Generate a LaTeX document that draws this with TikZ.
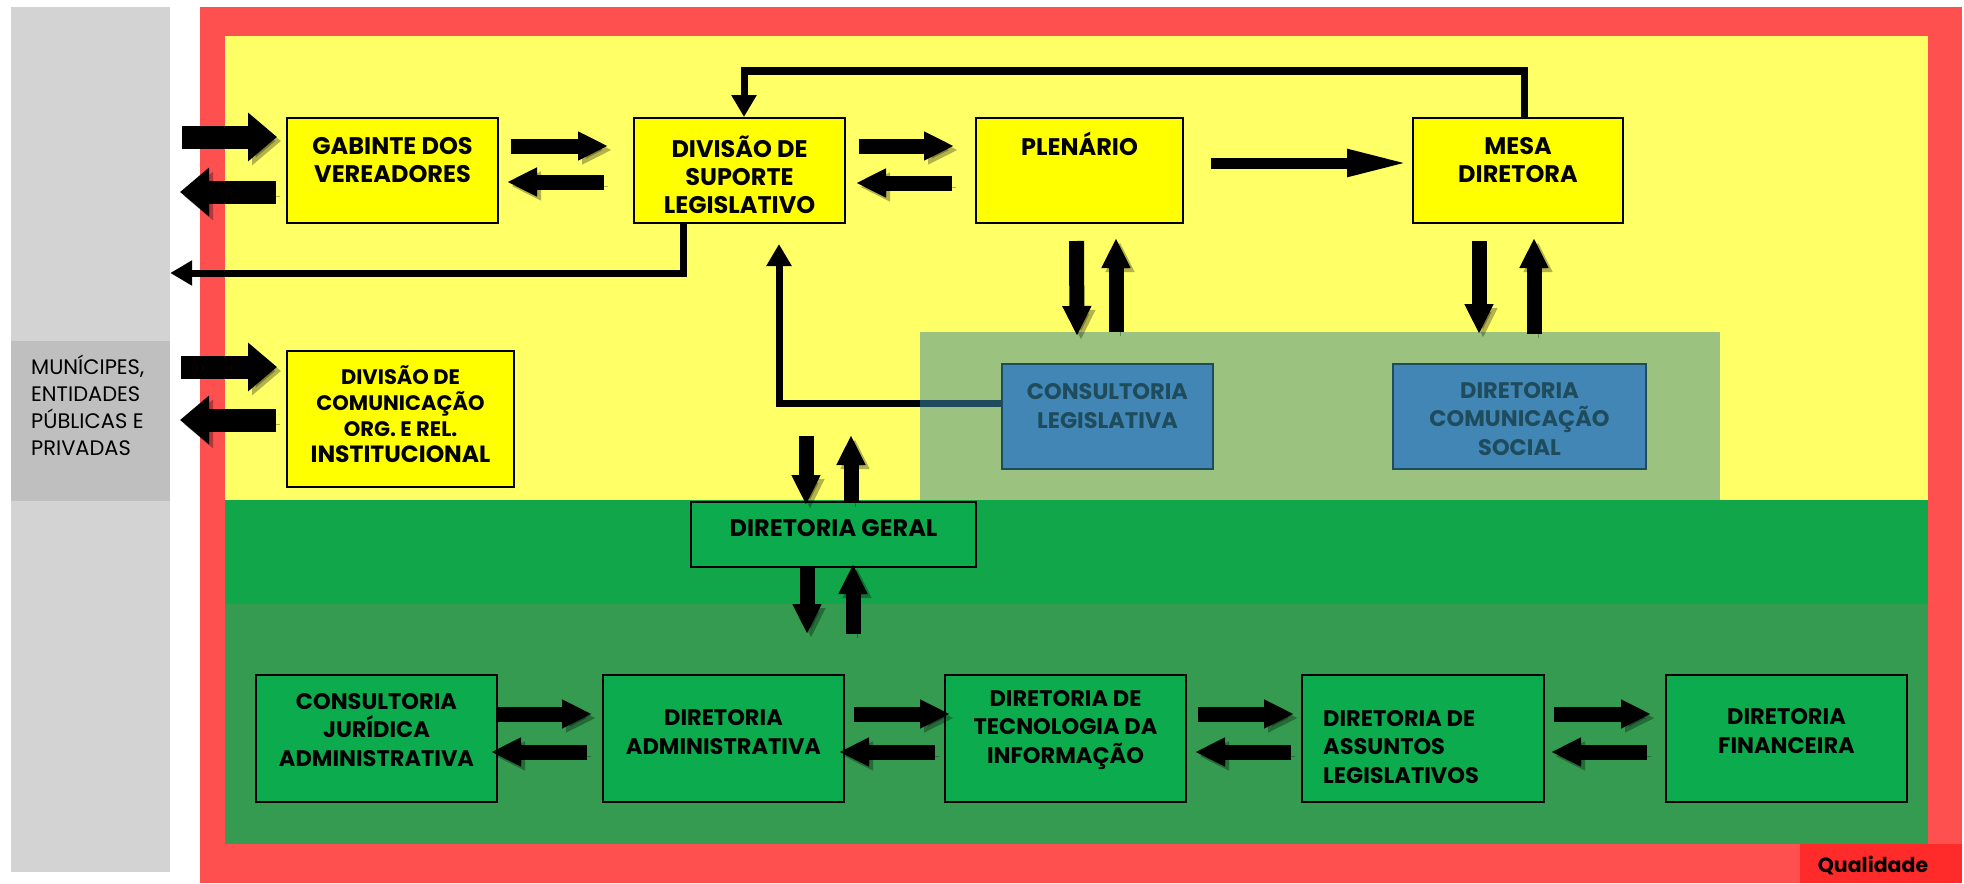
\documentclass[tikz,border=0pt]{standalone}
\usepackage{fontspec}
\setmainfont{Poppins}
\usetikzlibrary{arrows.meta,calc}
\definecolor{framered}{HTML}{FF5050}
\definecolor{bgyellow}{HTML}{FFFF66}
\definecolor{boxyellow}{HTML}{FFFF00}
\definecolor{bandgreen}{HTML}{12A64B}
\definecolor{darkgreen}{HTML}{359B50}
\definecolor{boxgreen}{HTML}{0CAC4E}
\definecolor{sage}{HTML}{9BC27F}
\definecolor{boxblue}{HTML}{4286B5}
\definecolor{bluedark}{HTML}{1E4C5C}
\definecolor{greylight}{HTML}{D3D3D3}
\definecolor{greydark}{HTML}{BFBFBF}
\definecolor{qualred}{HTML}{FF2B2B}
\begin{document}
\begin{tikzpicture}[x=1pt,y=-1pt,
  every node/.style={inner sep=0pt},
  ybox/.style={draw=black,line width=2pt,fill=boxyellow},
  bbox/.style={draw=bluedark,line width=2pt,fill=boxblue},
  gbox/.style={draw=black,line width=2pt,fill=boxgreen},
  btxt/.style={font=\bfseries\fontsize{24}{28}\selectfont,align=center},
  ltxt/.style={font=\bfseries\fontsize{22.5}{28.5}\selectfont,align=center},
  shadow/.style={preaction={draw=black,opacity=.3,transform canvas={xshift=4pt,yshift=-4pt}}},
  arr/.style={shadow,line width=15pt,-{Triangle[length=30pt,width=27pt]}},
  bigarr/.style={shadow,line width=23pt,-{Triangle[length=29pt,width=47pt]}},
  longarr/.style={shadow,line width=11pt,-{Triangle[length=62pt,width=25pt]}},
  wire/.style={line width=7pt,-{Triangle[length=22pt,width=24pt]}}]
\useasboundingbox (0,0) rectangle (1964,883);
% background areas
\node[fill=greylight,minimum width=159pt,minimum height=865pt] (col) at (90.5,439.5) {};
\node[fill=greydark,minimum width=159pt,minimum height=160pt] (mun) at (90.5,421) {};
\node[fill=framered,minimum width=1762pt,minimum height=876pt] (frame) at (1081,445) {};
\node[fill=bgyellow,minimum width=1703pt,minimum height=464pt] (upper) at (1076.5,268) {};
\node[fill=bandgreen,minimum width=1703pt,minimum height=104pt] (band) at (1076.5,552) {};
\node[fill=darkgreen,minimum width=1703pt,minimum height=240pt] (lower) at (1076.5,724) {};
\node[fill=sage,minimum width=800pt,minimum height=168pt] (sage) at (1320,416) {};
\node[fill=qualred,minimum width=162pt,minimum height=39pt] (qual) at (1881,863.5) {};
\node[font=\bfseries\fontsize{20.5}{22}\selectfont] (qualtxt) at (1873,866) {Qualidade};
\node[font=\fontsize{21}{27}\selectfont,align=left,anchor=west] (muntxt) at (31,405)
  {MUNÍCIPES,\\ENTIDADES\\PÚBLICAS E\\PRIVADAS};

% boxes
\node[ybox,minimum width=211pt,minimum height=105pt] (gab) at (392.5,170.5) {};
\node[ybox,minimum width=211pt,minimum height=105pt] (dsl) at (739.5,170.5) {};
\node[ybox,minimum width=207pt,minimum height=105pt] (plen) at (1079.5,170.5) {};
\node[ybox,minimum width=210pt,minimum height=105pt] (mesa) at (1518,170.5) {};
\node[ybox,minimum width=227pt,minimum height=136pt] (dcom) at (400.5,419) {};
\node[bbox,minimum width=211pt,minimum height=105pt] (cl) at (1107.5,416.5) {};
\node[bbox,minimum width=253pt,minimum height=105pt] (dcs) at (1519.5,416.5) {};
\node[gbox,minimum width=285pt,minimum height=65pt] (dg) at (833.5,534.5) {};
\node[gbox,minimum width=241pt,minimum height=127pt] (cja) at (376.5,738.5) {};
\node[gbox,minimum width=241pt,minimum height=127pt] (da) at (723.5,738.5) {};
\node[gbox,minimum width=241pt,minimum height=127pt] (dti) at (1065.5,738.5) {};
\node[gbox,minimum width=242pt,minimum height=127pt] (dal) at (1423,738.5) {};
\node[gbox,minimum width=241pt,minimum height=127pt] (df) at (1786.5,738.5) {};

% box texts
\node[btxt] (gabtxt) at (392.5,160) {GABINTE DOS\\VEREADORES};
\node[btxt] (dsltxt) at (739.5,175) {DIVISÃO DE\\SUPORTE\\LEGISLATIVO};
\node[btxt] (plentxt) at (1079.5,144) {PLENÁRIO};
\node[btxt] (mesatxt) at (1518,160) {MESA\\DIRETORA};
\node[font=\bfseries\fontsize{21}{26}\selectfont,align=center] (dcomtxt) at (400.5,414)
  {DIVISÃO DE\\COMUNICAÇÃO\\ORG. E REL.\\{\fontsize{23.5}{26}\selectfont INSTITUCIONAL}};
\node[ltxt,text=bluedark] (cltxt) at (1107.5,406) {CONSULTORIA\\LEGISLATIVA};
\node[ltxt,text=bluedark] (dcstxt) at (1519.5,419) {DIRETORIA\\COMUNICAÇÃO\\SOCIAL};
\node[btxt] (dgtxt) at (833.5,528) {DIRETORIA GERAL};
\node[ltxt] (cjatxt) at (376.5,730) {CONSULTORIA\\JURÍDICA\\ADMINISTRATIVA};
\node[ltxt] (datxt) at (723.5,732) {DIRETORIA\\ADMINISTRATIVA};
\node[ltxt] (dtitxt) at (1065.5,730) {DIRETORIA DE\\TECNOLOGIA DA\\INFORMAÇÃO};
\node[ltxt,align=left,anchor=west] (daltxt) at (1323,747) {DIRETORIA DE\\ASSUNTOS\\LEGISLATIVOS};
\node[ltxt] (dftxt) at (1786.5,731) {DIRETORIA\\FINANCEIRA};

% lines
\draw[wire] ($(mesa.north)+(6,0)$) -- ++(0,-46) -| ($(dsl.north)+(4.5,0)$);
\draw[wire] ($(dsl.south)+(-56.5,0)$) |- ($(col.east |- dsl.south)+(0,49)$);
\draw[wire] ($(cl.west)+(0,-13.5)$) -| ($(dsl.south)+(39.5,20)$);
\draw[line width=7pt,bluedark] ($(cl.west)+(0,-13.5)$) -- ($(sage.west |- cl.west)+(0,-13.5)$);

% arrows outside
\draw[bigarr] ($(gab.west)+(-104,-33.5)$) -- ($(gab.west)+(-9,-33.5)$);
\draw[bigarr] ($(gab.west)+(-10,21.5)$) -- ($(gab.west)+(-106,21.5)$);
\draw[bigarr] ($(dcom.west)+(-105,-52)$) -- ($(dcom.west)+(-9,-52)$);
\draw[bigarr] ($(dcom.west)+(-10,1)$) -- ($(dcom.west)+(-106,1)$);

% arrows upper row
\draw[arr] ($(gab.east)+(12,-24.5)$) -- ($(dsl.west)+(-25,-24.5)$);
\draw[arr] ($(dsl.west)+(-29,11.5)$) -- ($(gab.east)+(8,11.5)$);
\draw[arr] ($(dsl.east)+(13,-24.5)$) -- ($(plen.west)+(-21,-24.5)$);
\draw[arr] ($(plen.west)+(-23,12.5)$) -- ($(dsl.east)+(10,12.5)$);
\draw[longarr] ($(plen.east)+(27,-7.5)$) -- ($(mesa.west)+(-3,-7.5)$);
\draw[arr] ($(plen.south)+(-3,17)$) -- ($(cl.north)+(-30.5,-27)$);
\draw[arr] ($(cl.north)+(8.5,-31)$) -- ($(plen.south)+(36.5,14)$);
\draw[arr] ($(mesa.south)+(-39,17)$) -- ($(dcs.north)+(-40.5,-29)$);
\draw[arr] ($(dcs.north)+(14.5,-29)$) -- ($(mesa.south)+(16,14)$);

% arrows diretoria geral
\draw[arr] ($(dg.north)+(-27.5,-65)$) -- ($(dg.north)+(-27.5,4)$);
\draw[arr] ($(dg.north)+(17.5,2)$) -- ($(dg.north)+(17.5,-66)$);
\draw[arr] ($(dg.south)+(-26.5,0)$) -- ($(dg.south)+(-26.5,66)$);
\draw[arr] ($(dg.south)+(19.5,66)$) -- ($(dg.south)+(19.5,-4)$);

% arrows lower row
\draw[arr] ($(cja.east)+(-2,-24.5)$) -- ($(da.west)+(-10,-24.5)$);
\draw[arr] ($(da.west)+(-15,13.5)$) -- ($(cja.east)+(-7,13.5)$);
\draw[arr] ($(da.east)+(9,-24.5)$) -- ($(dti.west)+(6,-24.5)$);
\draw[arr] ($(dti.west)+(-9,13.5)$) -- ($(da.east)+(-6,13.5)$);
\draw[arr] ($(dti.east)+(11,-24.5)$) -- ($(dal.west)+(-7,-24.5)$);
\draw[arr] ($(dal.west)+(-10,13.5)$) -- ($(dti.east)+(8,13.5)$);
\draw[arr] ($(dal.east)+(9,-24.5)$) -- ($(df.west)+(-14,-24.5)$);
\draw[arr] ($(df.west)+(-18,13.5)$) -- ($(dal.east)+(6,13.5)$);
\end{tikzpicture}
\end{document}
